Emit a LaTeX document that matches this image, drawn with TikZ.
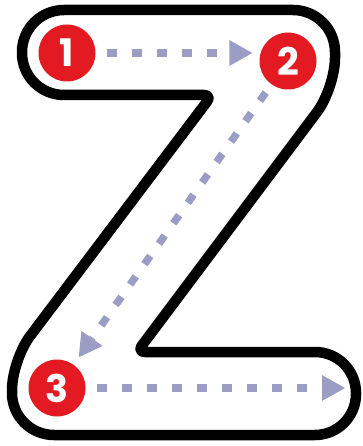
\documentclass[tikz,border=0pt]{standalone}
\usepackage{fontspec}
\newfontfamily\numfont{Poppins}
\usetikzlibrary{arrows.meta}
\definecolor{zred}{RGB}{227,26,34}
\definecolor{zlav}{RGB}{156,157,196}
\tikzset{
  zline/.style={draw=black, fill=white, line width=10.5pt, line join=round},
  num/.style={circle, fill=zred, minimum size=57pt, inner sep=0pt, text=white, font=\numfont\bfseries\fontsize{38}{38}\selectfont},
  arr/.style={draw=zlav, line width=7.5pt, dash pattern=on 10pt off 15pt, -{Triangle[length=23pt,width=26pt,line width=0pt]}}
}
\begin{document}
\begin{tikzpicture}[x=1pt,y=-1pt]
\useasboundingbox (0,0) rectangle (362,446);
\fill[white] (0,0) rectangle (362,446);
\draw[zline] (150,10) [rounded corners=42pt] -- (335,10)
  [rounded corners=30pt] -- (335,88)
  [rounded corners=8pt] -- (137,352)
  [rounded corners=41pt] -- (356,352) -- (356,435)
  [rounded corners=42pt] -- (12,435)
  [rounded corners=30pt] -- (12,360)
  [rounded corners=8pt] -- (212,95)
  [rounded corners=42pt] -- (22,95) -- (22,10) -- cycle;
\node[num] (n1) at (67,53) {1};
\node[num] (n2) at (288,61) {2};
\node[num] (n3) at (57,388) {3};
\coordinate (e3) at (345,388);
\draw[arr] ([xshift=11pt]n1.east) -- ([xshift=-7pt]n1.east -| n2.west);
\draw[arr, shorten <=10pt, shorten >=9pt] (n2) -- (n3);
\draw[arr] ([xshift=11pt]n3.east) -- (e3);
\end{tikzpicture}
\end{document}
